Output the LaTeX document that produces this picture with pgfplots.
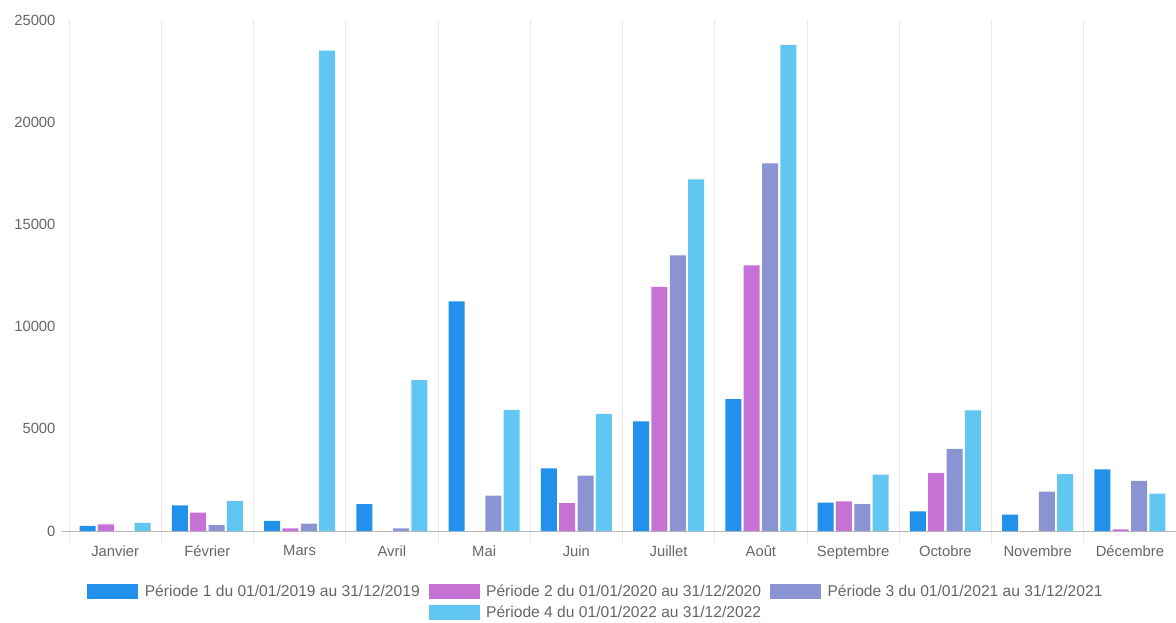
\documentclass[border=0pt]{standalone}
\usepackage{pgfplots}
\pgfplotsset{compat=1.18}
\usepackage{fontspec}
\setmainfont{Liberation Sans}

\definecolor{pone}{RGB}{33,145,235}
\definecolor{ptwo}{RGB}{198,114,212}
\definecolor{pthree}{RGB}{138,148,210}
\definecolor{pfour}{RGB}{98,198,243}
\definecolor{txt}{RGB}{102,102,102}
\definecolor{gridc}{RGB}{234,234,234}

% month index, one column per period
\pgfplotstableread{
x p1 p2 p3 p4
0 250 330 0 400
1 1250 900 300 1460
2 490 130 360 23500
3 1320 0 130 7380
4 11240 0 1730 5930
5 3070 1360 2710 5730
6 5360 11940 13480 17200
7 6450 13000 17980 23770
8 1390 1450 1320 2760
9 965 2840 4020 5900
10 800 0 1930 2780
11 3020 80 2450 1830
}\visits

\begin{document}
\begin{tikzpicture}
\path[use as bounding box] (0,0) rectangle (1176pt,622pt);
\begin{axis}[
  at={(69pt,91pt)}, anchor=south west,
  scale only axis, width=1107pt, height=511pt,
  xmin=-0.5, xmax=11.5, ymin=0, ymax=25000,
  axis x line*=bottom, axis y line*=left,
  axis line style={-},
  y axis line style={draw=none},
  x axis line style={draw=gray!55, line width=0.8pt, shorten <=-7pt},
  xtick={0,...,11},
  xticklabels={Janvier,Février,Mars,Avril,Mai,Juin,Juillet,Août,Septembre,Octobre,Novembre,Décembre},
  minor xtick={-0.5,0.5,...,11.5},
  xminorgrids,
  minor grid style={gridc, line width=0.8pt},
  tick align=outside,
  major tick length=0pt,
  minor tick length=12pt,
  minor tick style={gridc, line width=0.8pt},
  ytick={0,5000,...,25000},
  scaled y ticks=false,
  /pgf/number format/assume math mode=true,
  /pgf/number format/1000 sep={},
  tick label style={font=\fontsize{14.8}{17}\selectfont, text=txt},
  yticklabel style={xshift=-10pt},
  xticklabel style={yshift=-11pt},
  ybar, bar width=16pt,
  legend columns=3,
  legend cell align=left,
  legend style={at={(0.476,-0.097)}, anchor=north, draw=none, fill=none,
    font=\fontsize{15.6}{18}\selectfont, text=txt,
    /tikz/every odd column/.append style={column sep=5pt},
    /tikz/every even column/.append style={column sep=7pt},
    row sep=4pt},
]
\addplot[forget plot, fill=pone, draw=none, bar shift=-27.5pt] table[x=x, y=p1] {\visits};
\addplot[forget plot, fill=ptwo, draw=none, bar shift=-9.17pt] table[x=x, y=p2] {\visits};
\addplot[forget plot, fill=pthree, draw=none, bar shift=9.17pt] table[x=x, y=p3] {\visits};
\addplot[forget plot, fill=pfour, draw=none, bar shift=27.5pt] table[x=x, y=p4] {\visits};

\addlegendimage{legend image code/.code={\fill[pone] (0pt,-7pt) rectangle (50pt,7pt);}}
\addlegendentry{Période 1 du 01/01/2019 au 31/12/2019}
\addlegendimage{legend image code/.code={\fill[ptwo] (0pt,-7pt) rectangle (50pt,7pt);}}
\addlegendentry{Période 2 du 01/01/2020 au 31/12/2020}
\addlegendimage{legend image code/.code={\fill[pthree] (0pt,-7pt) rectangle (50pt,7pt);}}
\addlegendentry{Période 3 du 01/01/2021 au 31/12/2021}
\addlegendimage{empty legend}
\addlegendentry{}
\addlegendimage{legend image code/.code={\fill[pfour] (0pt,-7pt) rectangle (50pt,7pt);}}
\addlegendentry{Période 4 du 01/01/2022 au 31/12/2022}
\end{axis}
\end{tikzpicture}
\end{document}
